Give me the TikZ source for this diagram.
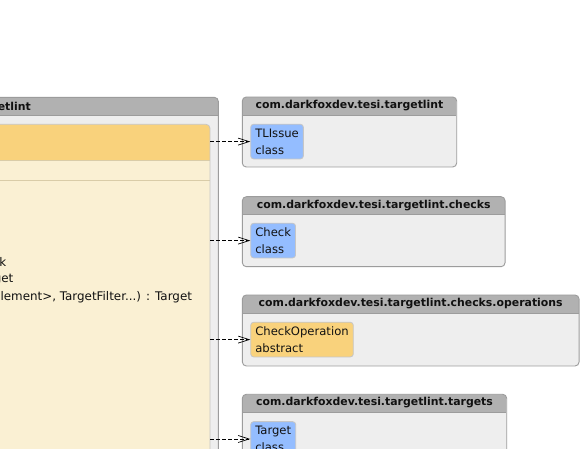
\documentclass[tikz,border=0pt]{standalone}
\usepackage{fontspec}
\setmainfont{DejaVu Sans}
\usetikzlibrary{arrows.meta,positioning,calc}
\definecolor{pkgbg}{HTML}{EEEEEE}
\definecolor{pkghd}{HTML}{B1B1B1}
\definecolor{pkgln}{HTML}{9C9C9C}
\definecolor{clsblue}{HTML}{94BDFF}
\definecolor{clsabs}{HTML}{F9D27C}
\definecolor{clsbody}{HTML}{FAF0D3}
\definecolor{clsln}{HTML}{C6C6C6}
\definecolor{sepln}{HTML}{D9CCA8}
\definecolor{txt}{HTML}{111111}

\begin{document}
\begin{tikzpicture}[
  x=1pt, y=-1pt,
  pkg/.style={draw=pkgln, fill=pkgbg, rounded corners=4pt, line width=0.9pt, inner sep=0pt,
    path picture={
      \fill[pkghd, sharp corners] (path picture bounding box.north west) rectangle ([yshift=-18pt]path picture bounding box.north east);
      \draw[pkgln, sharp corners, line width=0.5pt] ([yshift=-18pt]path picture bounding box.north west) -- ([yshift=-18pt]path picture bounding box.north east);
    }},
  hdr/.style={font=\fontsize{10.9}{13}\selectfont\bfseries, text=txt, inner sep=0pt},
  cls/.style={draw=clsln, fill=#1, rounded corners=3pt, line width=0.8pt, anchor=north west, align=left,
    font=\fontsize{11.6}{16.6}\selectfont, text=txt, inner xsep=4.6pt, inner ysep=0pt, minimum height=34.7pt},
  mth/.style={font=\fontsize{11.9}{14}\selectfont, text=txt, inner sep=0pt, anchor=east},
  dep/.style={-{Straight Barb[length=11pt, width=7pt]}, dash pattern=on 4pt off 2pt, line width=0.7pt, color=black},
]
\useasboundingbox (0,0) rectangle (582,449);
\fill[white] (0,0) rectangle (582,449);
\clip (0,0) rectangle (582,449);

\node[pkg, minimum width=238.3pt, minimum height=422.7pt] (Lpkg) at (99.2,308.7) {};
\node[hdr, anchor=east] (Lhdr) at (31,106) {etlint};

\node[draw=clsln, fill=clsbody, rounded corners=4pt, line width=0.8pt, inner sep=0pt,
  minimum width=220pt, minimum height=376pt,
  path picture={
    \fill[clsabs, sharp corners] (path picture bounding box.north west) rectangle ([yshift=-36.4pt]path picture bounding box.north east);
    \draw[sepln, sharp corners, line width=0.8pt] ([yshift=-36.4pt]path picture bounding box.north west) -- ([yshift=-36.4pt]path picture bounding box.north east);
    \draw[sepln, sharp corners, line width=0.8pt] ([yshift=-55.7pt]path picture bounding box.north west) -- ([yshift=-55.7pt]path picture bounding box.north east);
  }] (Main) at (100,312.3) {};
\node[mth] (m1) at (6.5,261.7) {k};
\node[mth] (m2) at (13.5,279.3) {get};
\node[mth, anchor=west] (m3) at (0.4,297) {lement>, TargetFilter...) : Target};

\node[pkg, minimum width=214.4pt, minimum height=70pt] (P1) at (349.5,132) {};
\node[hdr] at ([yshift=-9pt]P1.north) {com.darkfoxdev.tesi.targetlint};
\node[cls=clsblue] (TLIssue) at ([xshift=8.4pt, yshift=-27.3pt]P1.north west) {TLIssue\\class};

\node[pkg, minimum width=262.7pt, minimum height=70pt] (P2) at (373.7,231.7) {};
\node[hdr] at ([yshift=-9pt]P2.north) {com.darkfoxdev.tesi.targetlint.checks};
\node[cls=clsblue] (Check) at ([xshift=8.4pt, yshift=-26.6pt]P2.north west) {Check\\class};

\node[pkg, minimum width=336.7pt, minimum height=71pt] (P3) at (410.7,330.5) {};
\node[hdr] at ([yshift=-9pt]P3.north) {com.darkfoxdev.tesi.targetlint.checks.operations};
\node[cls=clsabs] (CheckOp) at ([xshift=8.4pt, yshift=-27.3pt]P3.north west) {CheckOperation\\abstract};

\node[pkg, minimum width=264.4pt, minimum height=70pt] (P4) at (374.5,429.3) {};
\node[hdr] at ([yshift=-9pt]P4.north) {com.darkfoxdev.tesi.targetlint.targets};
\node[cls=clsblue] (Target) at ([xshift=8.4pt, yshift=-27.4pt]P4.north west) {Target\\class};

\draw[dep] (Main.east |- TLIssue.west) -- (TLIssue.west);
\draw[dep] (Main.east |- Check.west) -- (Check.west);
\draw[dep] (Main.east |- CheckOp.west) -- (CheckOp.west);
\draw[dep] (Main.east |- Target.west) -- (Target.west);

\end{tikzpicture}
\end{document}
